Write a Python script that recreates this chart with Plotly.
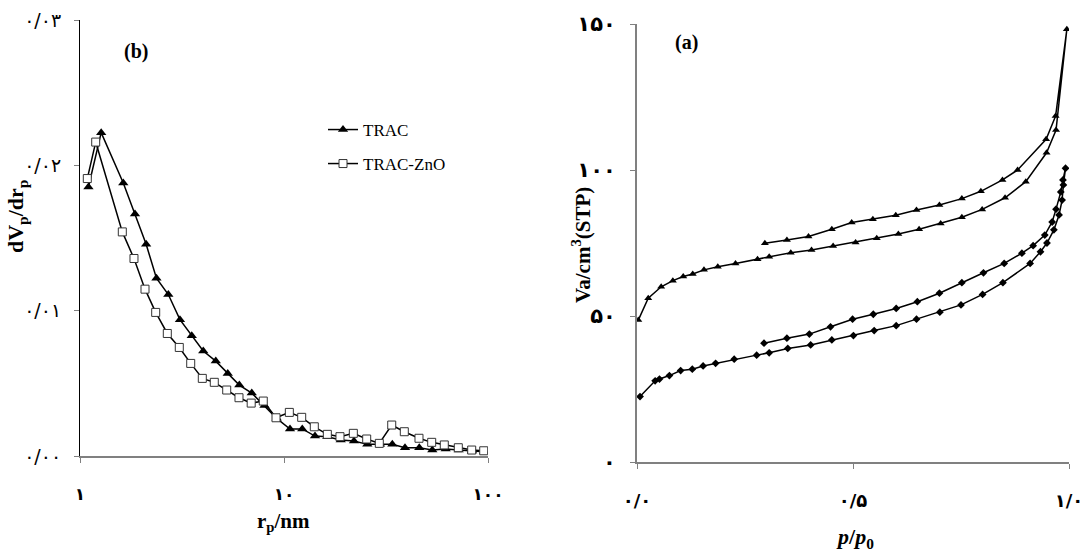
import plotly.graph_objects as go

# ---------------- Left chart (b): pore size distribution ----------------
trac_r = [1.10, 1.27, 1.63, 1.86, 2.11, 2.37, 2.71, 3.09, 3.53, 4.02, 4.63, 5.30,
          6.04, 6.95, 8.02, 9.21, 10.70, 12.29, 14.19, 16.31, 18.97, 22.03, 25.61,
          29.55, 33.96, 39.18, 46.05, 53.33, 62.02, 71.85, 83.48, 95.9]
trac_dv = [0.01851, 0.02225, 0.01878, 0.01665, 0.01457, 0.01223, 0.01111, 0.00938,
           0.00828, 0.00722, 0.00653, 0.00568, 0.00488, 0.00433, 0.00347, 0.00259,
           0.00186, 0.00186, 0.00137, 0.00133, 0.00110, 0.00103, 0.00080, 0.00080,
           0.00080, 0.00057, 0.00057, 0.00041, 0.00048, 0.00041, 0.00034, 0.00030]

zno_r = [1.086, 1.194, 1.612, 1.839, 2.083, 2.350, 2.679, 3.067, 3.489, 3.977, 4.553,
         5.238, 6.017, 6.906, 7.915, 9.137, 10.62, 12.21, 14.08, 16.31, 18.81, 21.87,
         25.43, 29.32, 33.73, 38.88, 45.89, 52.97, 61.06, 71.52, 83.19, 95.28]
zno_dv = [0.01909, 0.02160, 0.01542, 0.01359, 0.01148, 0.00988, 0.00843, 0.00747,
          0.00637, 0.00534, 0.00507, 0.00454, 0.00401, 0.00364, 0.00378, 0.00263,
          0.00300, 0.00266, 0.00201, 0.00149, 0.00133, 0.00156, 0.00117, 0.00087,
          0.00213, 0.00167, 0.00122, 0.00094, 0.00076, 0.00057, 0.00041, 0.00036]

# ---------------- Right chart (a): isotherms ----------------
iso_trac_p = [0.003, 0.026, 0.056, 0.083, 0.107, 0.129, 0.155, 0.187, 0.228, 0.279,
              0.306, 0.356, 0.404, 0.454, 0.506, 0.555, 0.605, 0.653, 0.703, 0.752,
              0.799, 0.852, 0.900, 0.948, 0.970, 0.995,
              0.969, 0.947, 0.881, 0.846, 0.796, 0.752, 0.700, 0.647, 0.599, 0.546,
              0.497, 0.451, 0.397, 0.347, 0.296]
iso_trac_v = [48.6, 56.1, 60.0, 62.1, 63.5, 64.4, 65.8, 66.9, 68.0, 69.4,
              70.3, 71.7, 72.6, 74.0, 75.2, 76.6, 78.1, 79.7, 81.7, 83.8,
              86.5, 90.5, 96.0, 105.9, 113.7, 148.2,
              118.5, 110.5, 100.0, 96.6, 92.7, 90.2, 88.0, 86.3, 84.5, 83.1,
              82.0, 79.7, 77.2, 76.0, 74.9]

iso_zno_p = [0.007, 0.042, 0.052, 0.075, 0.101, 0.128, 0.153, 0.182, 0.225, 0.277,
             0.306, 0.349, 0.402, 0.451, 0.501, 0.549, 0.600, 0.647, 0.701, 0.750,
             0.800, 0.847, 0.910, 0.934, 0.949, 0.965, 0.977, 0.984, 0.987, 0.992,
             0.986, 0.981, 0.970, 0.961, 0.944, 0.917, 0.891, 0.850, 0.802, 0.752,
             0.700, 0.649, 0.600, 0.547, 0.499, 0.448, 0.399, 0.347, 0.294]
iso_zno_v = [22.4, 27.8, 28.4, 29.6, 31.3, 31.8, 32.9, 33.8, 35.2, 36.6,
             37.4, 38.9, 40.1, 41.8, 43.3, 45.0, 46.7, 48.9, 51.3, 53.8,
             57.4, 61.4, 68.0, 72.0, 75.0, 79.5, 84.6, 89.7, 94.9, 100.6,
             96.6, 92.5, 86.6, 82.2, 77.7, 74.1, 71.5, 68.0, 64.8, 61.4,
             57.8, 54.9, 52.6, 50.6, 48.9, 46.3, 43.8, 42.4, 40.7]

# tick labels
left_x_vals = [1, 10, 100]
left_x_text = ["۱", "۱۰", "۱۰۰"]
left_y_vals = [0, 0.01, 0.02, 0.03]
left_y_text = ["۰/۰۰", "۰/۰۱", "۰/۰۲", "۰/۰۳"]
right_x_vals = [0, 0.5, 1.0]
right_x_text = ["۰/۰", "۰/۵", "۱/۰"]
right_y_vals = [0, 50, 100, 150]
right_y_text = ["۰", "۵۰", "۱۰۰", "۱۵۰"]

W, H = 1089, 552
FONT = "Liberation Serif, Times New Roman, serif"
DIGITS = "DejaVu Sans"

fig = go.Figure()

fig.add_trace(go.Scatter(
    x=trac_r, y=trac_dv, mode="lines+markers", name="TRAC",
    line=dict(color="black", width=1.5),
    marker=dict(symbol="triangle-up", size=9, color="black"),
    xaxis="x", yaxis="y", legend="legend"))
fig.add_trace(go.Scatter(
    x=zno_r, y=zno_dv, mode="lines+markers", name="TRAC-ZnO",
    line=dict(color="black", width=1.5),
    marker=dict(symbol="square", size=8, color="white",
                line=dict(color="#333333", width=1)),
    xaxis="x", yaxis="y", legend="legend2"))

fig.add_trace(go.Scatter(
    x=iso_trac_p, y=iso_trac_v, mode="lines+markers", showlegend=False,
    line=dict(color="black", width=1.5),
    marker=dict(symbol="triangle-up", size=7, color="black"),
    xaxis="x2", yaxis="y2"))
fig.add_trace(go.Scatter(
    x=iso_zno_p, y=iso_zno_v, mode="lines+markers", showlegend=False,
    line=dict(color="black", width=1.5),
    marker=dict(symbol="diamond", size=6, color="black"),
    xaxis="x2", yaxis="y2"))

def px_x(p):
    return p / W

def px_y(p):
    return 1 - p / H

axis_common = dict(showgrid=False, zeroline=False, showline=True, ticks="outside",
                   ticklen=5, mirror=False, automargin=False)

fig.update_layout(
    width=W, height=H,
    margin=dict(l=0, r=0, t=0, b=0, autoexpand=False),
    paper_bgcolor="white", plot_bgcolor="white",
    font=dict(family=FONT, color="black"),
    xaxis=dict(type="log", range=[0, 2], domain=[px_x(80), px_x(488)], anchor="y",
               tickvals=left_x_vals, ticktext=left_x_text,
               linecolor="#808080", linewidth=2, tickcolor="#808080",
               tickfont=dict(size=17, family=DIGITS, weight="bold"), ticklabelstandoff=17,
               **axis_common),
    yaxis=dict(range=[0, 0.03], domain=[px_y(456), px_y(20)], anchor="x",
               tickvals=left_y_vals, ticktext=left_y_text,
               linecolor="black", linewidth=1, tickcolor="#808080",
               tickfont=dict(size=19, family=DIGITS), ticklabelstandoff=9,
               **axis_common),
    xaxis2=dict(range=[0, 1], domain=[px_x(637), px_x(1069)], anchor="y2",
                tickvals=right_x_vals, ticktext=right_x_text,
                linecolor="#808080", linewidth=2, tickcolor="#808080",
                tickfont=dict(size=18, family=DIGITS, weight="bold"), ticklabelstandoff=16,
                **axis_common),
    yaxis2=dict(range=[0, 150], domain=[px_y(462), px_y(24)], anchor="x2",
                tickvals=right_y_vals, ticktext=right_y_text,
                linecolor="#808080", linewidth=2, tickcolor="#808080",
                tickfont=dict(size=21, family=DIGITS, weight="bold"), ticklabelstandoff=10,
                **axis_common),
    legend=dict(x=px_x(323), y=px_y(130), xanchor="left", yanchor="middle",
                bgcolor="rgba(0,0,0,0)", font=dict(size=17, family=FONT)),
    legend2=dict(x=px_x(323), y=px_y(164), xanchor="left", yanchor="middle",
                 bgcolor="rgba(0,0,0,0)", font=dict(size=17, family=FONT)),
)

ann = [
    dict(text="<b>(b)</b>", x=px_x(136), y=px_y(52), size=20),
    dict(text="<b>(a)</b>", x=px_x(686), y=px_y(42), size=20),
    dict(text="<b>r<sub>p</sub>/nm</b>", x=px_x(283), y=px_y(522), size=21),
    dict(text="<b><i>p</i>/<i>p</i><sub>0</sub></b>", x=px_x(855), y=px_y(538), size=22),
]
for a in ann:
    fig.add_annotation(text=a["text"], x=a["x"], y=a["y"], xref="paper", yref="paper",
                       showarrow=False, xanchor="center", yanchor="middle",
                       font=dict(size=a["size"], family=FONT, color="black"))

fig.add_annotation(text="<b>dV<sub>p</sub>/dr<sub>p</sub></b>", x=px_x(17), y=px_y(217),
                   xref="paper", yref="paper", showarrow=False, textangle=-90,
                   xanchor="center", yanchor="middle",
                   font=dict(size=22, family=FONT, color="black"))
fig.add_annotation(text="<b>Va/cm<sup>3</sup>(STP)</b>", x=px_x(582), y=px_y(245),
                   xref="paper", yref="paper", showarrow=False, textangle=-90,
                   xanchor="center", yanchor="middle",
                   font=dict(size=21, family=FONT, color="black"))

fig.write_html("out.html")
